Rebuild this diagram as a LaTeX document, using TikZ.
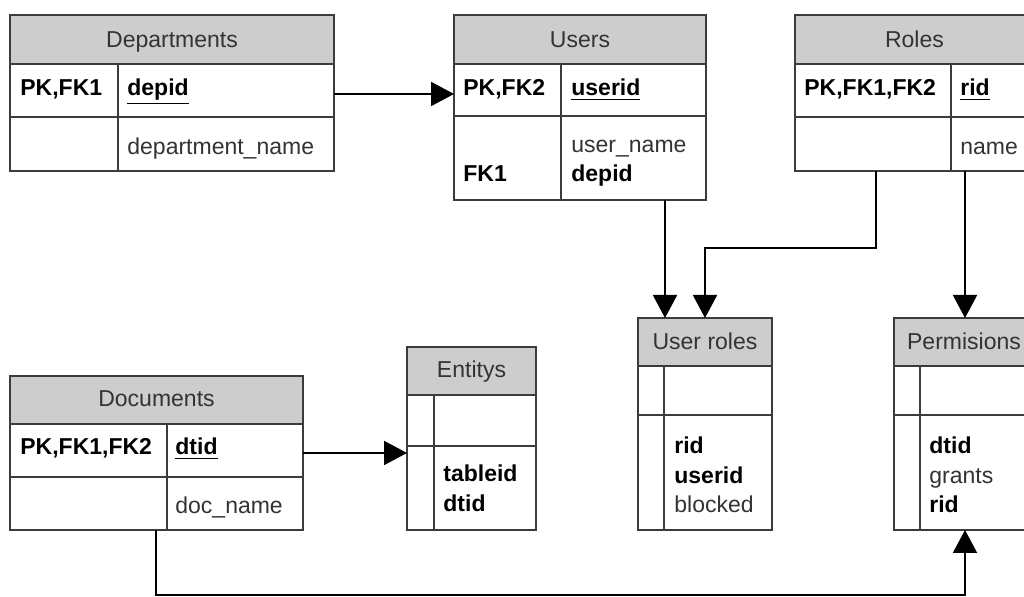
\documentclass[tikz,border=0pt]{standalone}
\usepackage{fontspec}
\setmainfont{Liberation Sans}
\usetikzlibrary{arrows.meta,fit}
\definecolor{hdrgray}{HTML}{CDCDCD}
\definecolor{bordergray}{HTML}{3C3C3C}
\definecolor{txtgray}{HTML}{333333}
\begin{document}
\begin{tikzpicture}[x=0.5pt,y=-0.5pt,
  tbl/.style={draw=bordergray, line width=0.75pt, inner sep=0pt, outer sep=0pt, fill=white},
  hdr/.style={draw=bordergray, line width=0.75pt, inner sep=0pt, outer sep=0pt, fill=hdrgray},
  sepline/.style={draw=bordergray, line width=0.75pt},
  conn/.style={line width=1pt, -{Triangle[length=11.5pt,width=12pt]}},
  lbl/.style={anchor=base west, inner sep=0pt, text=txtgray, font=\fontsize{11.5}{13}\selectfont},
  key/.style={anchor=base west, inner sep=0pt, text=black, font=\fontsize{11.5}{13}\selectfont\bfseries},
  ttl/.style={anchor=base, inner sep=0pt, text=txtgray, font=\fontsize{11.5}{13}\selectfont}]
\clip (0,0) rectangle (1024,597);
\fill[white] (0,0) rectangle (1024,597);

% ---------- Departments ----------
\node[tbl, fit={(10,15) (334,171)}] (dep) {};
\node[hdr, fit={(10,15) (334,64)}] (deph) {};
\draw[sepline] (10,117) -- (334,117);
\draw[sepline] (118,64) -- (118,171);
\node[ttl] (dept) at (172,48) {Departments};
\node[key] (depk1) at (20,96) {PK,FK1};
\node[key] (depf1) at (127,96) {\underline{depid}};
\node[lbl] (depf2) at (127,155) {department\_name};

% ---------- Users ----------
\node[tbl, fit={(454,15) (706,200)}] (usr) {};
\node[hdr, fit={(454,15) (706,64)}] (usrh) {};
\draw[sepline] (454,116) -- (706,116);
\draw[sepline] (561,64) -- (561,200);
\node[ttl] (usrt) at (580,48) {Users};
\node[key] (usrk1) at (463,96) {PK,FK2};
\node[key] (usrf1) at (571,96) {\underline{userid}};
\node[lbl] (usrf2) at (571,153) {user\_name};
\node[key] (usrk3) at (463,182) {FK1};
\node[key] (usrf3) at (571,182) {depid};

% ---------- Roles ----------
\node[tbl, fit={(795,15) (1034,171)}] (rol) {};
\node[hdr, fit={(795,15) (1034,64)}] (rolh) {};
\draw[sepline] (795,117) -- (1034,117);
\draw[sepline] (951,64) -- (951,171);
\node[ttl] (rolt) at (914.5,48) {Roles};
\node[key] (rolk1) at (804,96) {PK,FK1,FK2};
\node[key] (rolf1) at (960,96) {\underline{rid}};
\node[lbl] (rolf2) at (960,155) {name};

% ---------- User roles ----------
\node[tbl, fit={(638,318) (772,530)}] (ur) {};
\node[hdr, fit={(638,318) (772,366)}] (urh) {};
\draw[sepline] (638,415) -- (772,415);
\draw[sepline] (664,366) -- (664,530);
\node[ttl] (urt) at (705,350) {User roles};
\node[key] (urf1) at (674,454) {rid};
\node[key] (urf2) at (674,484) {userid};
\node[lbl] (urf3) at (674,513) {blocked};

% ---------- Permisions ----------
\node[tbl, fit={(894,318) (1034,530)}] (perm) {};
\node[hdr, fit={(894,318) (1034,366)}] (permh) {};
\draw[sepline] (894,415) -- (1034,415);
\draw[sepline] (920,366) -- (920,530);
\node[ttl] (permt) at (964,350) {Permisions};
\node[key] (permf1) at (929,454) {dtid};
\node[lbl] (permf2) at (929,484) {grants};
\node[key] (permf3) at (929,513) {rid};

% ---------- Documents ----------
\node[tbl, fit={(10,376) (303,530)}] (doc) {};
\node[hdr, fit={(10,376) (303,424)}] (doch) {};
\draw[sepline] (10,477) -- (303,477);
\draw[sepline] (167,424) -- (167,530);
\node[ttl] (doct) at (156.5,407) {Documents};
\node[key] (dock1) at (20,455) {PK,FK1,FK2};
\node[key] (docf1) at (175,455) {\underline{dtid}};
\node[lbl] (docf2) at (175,514) {doc\_name};

% ---------- Entitys ----------
\node[tbl, fit={(407,347) (536,530)}] (ent) {};
\node[hdr, fit={(407,347) (536,395)}] (enth) {};
\draw[sepline] (407,446) -- (536,446);
\draw[sepline] (434,395) -- (434,530);
\node[ttl] (entt) at (471.5,378) {Entitys};
\node[key] (entf1) at (443,482) {tableid};
\node[key] (entf2) at (443,512) {dtid};

% ---------- Connectors ----------
\coordinate (ya) at (0,94);
\draw[conn] (ya -| dep.east) -- (ya -| usr.west);

\coordinate (yb) at (0,453);
\draw[conn] (yb -| doc.east) -- (yb -| ent.west);

\coordinate (xc) at (665,0);
\draw[conn] (xc |- usr.south) -- (xc |- ur.north);

\coordinate (r1) at (876,248);
\coordinate (r2) at (705,248);
\draw[conn] (r1 |- rol.south) -- (r1) -- (r2) -- (r2 |- ur.north);

\coordinate (xp) at (965,0);
\draw[conn] (xp |- rol.south) -- (xp |- perm.north);

\coordinate (d1) at (156,595.5);
\coordinate (d2) at (965,595.5);
\draw[conn] (d1 |- doc.south) -- (d1) -- (d2) -- (d2 |- perm.south);
\end{tikzpicture}
\end{document}
